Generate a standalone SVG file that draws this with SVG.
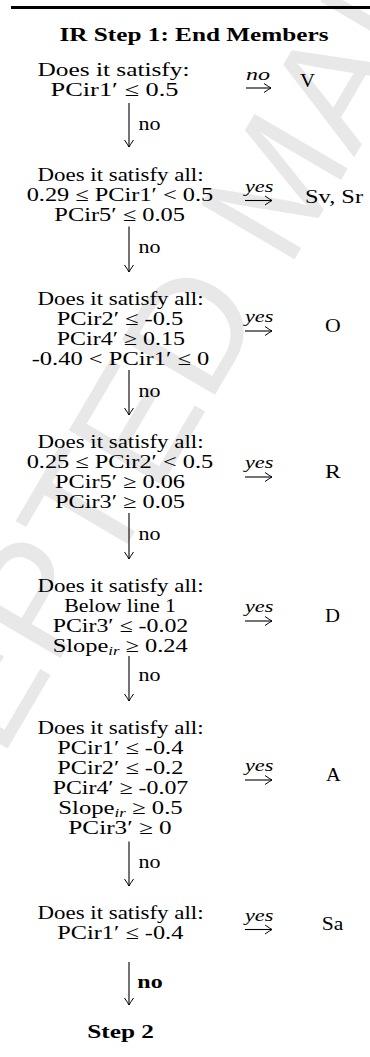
<svg xmlns="http://www.w3.org/2000/svg" width="370" height="1057" viewBox="0 0 370 1057">
<style>
.t{font-family:"Liberation Serif","Times New Roman",serif;font-size:19px;fill:#000}
.b{font-weight:bold}
.lbl{font-family:"Liberation Serif","Times New Roman",serif;font-size:16px;font-style:italic;fill:#000}
.nl{font-family:"Liberation Serif","Times New Roman",serif;font-size:19px;fill:#000}
.sub{font-style:italic;font-size:13px}
.c{stroke:#000;stroke-width:1.1;fill:none}
.wm{font-family:"Liberation Sans",Arial,sans-serif;font-size:157px;fill:#e8e8e8}
</style>
<defs>
<marker id="ah" markerUnits="userSpaceOnUse" viewBox="-9 -6 10 12" markerWidth="10" markerHeight="12" refX="0" refY="0" orient="auto" overflow="visible">
<path d="M-7,-4.5 Q-2,-1 0,0 Q-2,1 -7,4.5" fill="none" stroke="#000" stroke-width="1"/>
</marker>
</defs>
<rect width="370" height="1057" fill="#fff"/>
<g id="watermark">
<text class="wm" transform="translate(-166.8,1045.3) rotate(-59.6)">ACCEPTED MANUSCRIPT</text>
</g>
<rect id="top-rule" x="11" y="6" width="359" height="3" fill="#000"/>
<g id="title"><text class="t b" x="59.5" y="41" textLength="269" lengthAdjust="spacingAndGlyphs">IR Step 1: End Members</text></g>

<g id="n1">
<text class="t" x="37.5" y="76" textLength="152" lengthAdjust="spacingAndGlyphs">Does it satisfy:</text>
<text class="t" x="50.5" y="96" textLength="128" lengthAdjust="spacingAndGlyphs">PCir1′ ≤ 0.5</text>
</g>
<g id="r1"><text class="t" x="300" y="86.5" textLength="15" lengthAdjust="spacingAndGlyphs">V</text></g>

<g id="n2">
<text class="t" x="37.5" y="181" textLength="166" lengthAdjust="spacingAndGlyphs">Does it satisfy all:</text>
<text class="t" x="26.7" y="201" textLength="186.6" lengthAdjust="spacingAndGlyphs">0.29 ≤ PCir1′ &lt; 0.5</text>
<text class="t" x="54.3" y="221" textLength="130.7" lengthAdjust="spacingAndGlyphs">PCir5′ ≤ 0.05</text>
</g>
<g id="r2"><text class="t" x="305" y="202.5" textLength="58" lengthAdjust="spacingAndGlyphs">Sv, Sr</text></g>

<g id="n3">
<text class="t" x="37.5" y="305" textLength="166" lengthAdjust="spacingAndGlyphs">Does it satisfy all:</text>
<text class="t" x="56.7" y="325" textLength="126.6" lengthAdjust="spacingAndGlyphs">PCir2′ ≤ -0.5</text>
<text class="t" x="56.7" y="345" textLength="128.3" lengthAdjust="spacingAndGlyphs">PCir4′ ≥ 0.15</text>
<text class="t" x="31.7" y="365" textLength="177.6" lengthAdjust="spacingAndGlyphs">-0.40 &lt; PCir1′ ≤ 0</text>
</g>
<g id="r3"><text class="t" x="325" y="332" textLength="15.7" lengthAdjust="spacingAndGlyphs">O</text></g>

<g id="n4">
<text class="t" x="37.5" y="448" textLength="166" lengthAdjust="spacingAndGlyphs">Does it satisfy all:</text>
<text class="t" x="26.7" y="468" textLength="186.6" lengthAdjust="spacingAndGlyphs">0.25 ≤ PCir2′ &lt; 0.5</text>
<text class="t" x="55" y="488" textLength="130" lengthAdjust="spacingAndGlyphs">PCir5′ ≥ 0.06</text>
<text class="t" x="55" y="508" textLength="130" lengthAdjust="spacingAndGlyphs">PCir3′ ≥ 0.05</text>
</g>
<g id="r4"><text class="t" x="325" y="477.5" textLength="15.7" lengthAdjust="spacingAndGlyphs">R</text></g>

<g id="n5">
<text class="t" x="37.5" y="592" textLength="166" lengthAdjust="spacingAndGlyphs">Does it satisfy all:</text>
<text class="t" x="64.3" y="612" textLength="111.7" lengthAdjust="spacingAndGlyphs">Below line 1</text>
<text class="t" x="52.7" y="632" textLength="135.6" lengthAdjust="spacingAndGlyphs">PCir3′ ≤ -0.02</text>
<text class="t" x="52.7" y="652" textLength="135" lengthAdjust="spacingAndGlyphs">Slope<tspan class="sub" dy="2.5">ir</tspan><tspan dy="-2.5"> ≥ 0.24</tspan></text>
</g>
<g id="r5"><text class="t" x="325" y="622" textLength="15" lengthAdjust="spacingAndGlyphs">D</text></g>

<g id="n6">
<text class="t" x="37.5" y="734" textLength="166" lengthAdjust="spacingAndGlyphs">Does it satisfy all:</text>
<text class="t" x="57.3" y="754" textLength="126" lengthAdjust="spacingAndGlyphs">PCir1′ ≤ -0.4</text>
<text class="t" x="57.3" y="774" textLength="126" lengthAdjust="spacingAndGlyphs">PCir2′ ≤ -0.2</text>
<text class="t" x="52.7" y="794" textLength="135.6" lengthAdjust="spacingAndGlyphs">PCir4′ ≥ -0.07</text>
<text class="t" x="58.3" y="814" textLength="124.4" lengthAdjust="spacingAndGlyphs">Slope<tspan class="sub" dy="2.5">ir</tspan><tspan dy="-2.5"> ≥ 0.5</tspan></text>
<text class="t" x="68.3" y="834" textLength="103.4" lengthAdjust="spacingAndGlyphs">PCir3′ ≥ 0</text>
</g>
<g id="r6"><text class="t" x="326" y="781" textLength="14.7" lengthAdjust="spacingAndGlyphs">A</text></g>

<g id="n7">
<text class="t" x="37.5" y="919" textLength="166" lengthAdjust="spacingAndGlyphs">Does it satisfy all:</text>
<text class="t" x="57.3" y="939" textLength="126" lengthAdjust="spacingAndGlyphs">PCir1′ ≤ -0.4</text>
</g>
<g id="r7"><text class="t" x="321.7" y="930" textLength="21.6" lengthAdjust="spacingAndGlyphs">Sa</text></g>

<g id="n8"><text class="t b" x="87.3" y="1038" textLength="66.7" lengthAdjust="spacingAndGlyphs">Step 2</text></g>

<g id="connectors">
<line class="c" x1="246" y1="88" x2="271" y2="88" marker-end="url(#ah)"/>
<text class="lbl" x="246" y="80" textLength="24" lengthAdjust="spacingAndGlyphs">no</text>
<line class="c" x1="245" y1="200.5" x2="272" y2="200.5" marker-end="url(#ah)"/>
<text class="lbl" x="245" y="191.5" textLength="28.3" lengthAdjust="spacingAndGlyphs">yes</text>
<line class="c" x1="245" y1="331" x2="272" y2="331" marker-end="url(#ah)"/>
<text class="lbl" x="245" y="322" textLength="28.3" lengthAdjust="spacingAndGlyphs">yes</text>
<line class="c" x1="245" y1="477" x2="272" y2="477" marker-end="url(#ah)"/>
<text class="lbl" x="245" y="468" textLength="28.3" lengthAdjust="spacingAndGlyphs">yes</text>
<line class="c" x1="245" y1="621" x2="272" y2="621" marker-end="url(#ah)"/>
<text class="lbl" x="245" y="612" textLength="28.3" lengthAdjust="spacingAndGlyphs">yes</text>
<line class="c" x1="245" y1="780" x2="272" y2="780" marker-end="url(#ah)"/>
<text class="lbl" x="245" y="771" textLength="28.3" lengthAdjust="spacingAndGlyphs">yes</text>
<line class="c" x1="245" y1="929.5" x2="272" y2="929.5" marker-end="url(#ah)"/>
<text class="lbl" x="245" y="920.5" textLength="28.3" lengthAdjust="spacingAndGlyphs">yes</text>

<line class="c" x1="129" y1="103" x2="129" y2="147" marker-end="url(#ah)"/>
<text class="nl" x="138.5" y="129.5" textLength="22" lengthAdjust="spacingAndGlyphs">no</text>
<line class="c" x1="129" y1="226.5" x2="129" y2="272" marker-end="url(#ah)"/>
<text class="nl" x="138.5" y="252.5" textLength="22" lengthAdjust="spacingAndGlyphs">no</text>
<line class="c" x1="129" y1="370" x2="129" y2="415" marker-end="url(#ah)"/>
<text class="nl" x="138.5" y="397" textLength="22" lengthAdjust="spacingAndGlyphs">no</text>
<line class="c" x1="129" y1="513" x2="129" y2="559" marker-end="url(#ah)"/>
<text class="nl" x="138.5" y="540" textLength="22" lengthAdjust="spacingAndGlyphs">no</text>
<line class="c" x1="129" y1="656" x2="129" y2="701" marker-end="url(#ah)"/>
<text class="nl" x="138.5" y="681" textLength="22" lengthAdjust="spacingAndGlyphs">no</text>
<line class="c" x1="129" y1="841.5" x2="129" y2="886" marker-end="url(#ah)"/>
<text class="nl" x="138.5" y="867.5" textLength="22" lengthAdjust="spacingAndGlyphs">no</text>
<line class="c" x1="129" y1="962" x2="129" y2="1005" marker-end="url(#ah)"/>
<text class="nl b" x="137.3" y="987.5" textLength="25.4" lengthAdjust="spacingAndGlyphs">no</text>
</g>
</svg>
